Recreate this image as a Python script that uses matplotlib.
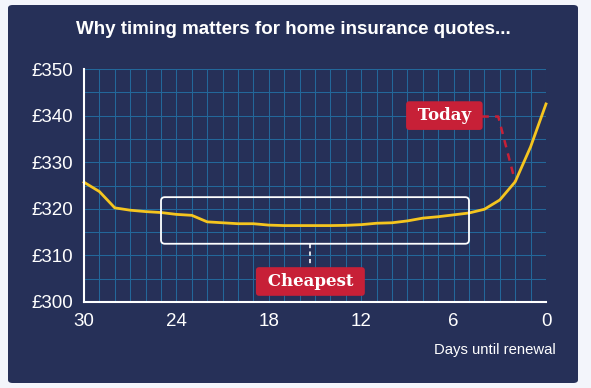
import matplotlib.pyplot as plt
from matplotlib.patches import FancyBboxPatch
from matplotlib.ticker import MultipleLocator, FuncFormatter

# days until renewal and the average quote on that day
DAYS = list(range(30, -1, -1))
QUOTES = [325.7, 323.7, 320.2, 319.7, 319.4, 319.2, 318.8, 318.6, 317.2, 317.0,
          316.8, 316.8, 316.5, 316.4, 316.4, 316.4, 316.4, 316.45, 316.6, 316.9,
          317.0, 317.4, 318.0, 318.3, 318.7, 319.1, 319.9, 321.9, 325.8, 333.3,
          342.5]

TITLE = "Why timing matters for home insurance quotes..."
XLABEL = "Days until renewal"
CHEAP_RANGE = (25, 5)          # days covered by the "cheapest" box
CHEAP_BAND = (312.5, 322.5)    # price band of the box
TODAY_DAY = 2

NAVY = "#263058"
PAGE = "#f3f5fb"
GRID = "#23679a"
YELLOW = "#f5c51f"
RED = "#c72037"

plt.rcParams['font.family'] = ['Liberation Sans', 'DejaVu Sans']

fig = plt.figure(figsize=(5.91, 3.88), dpi=100)
fig.patch.set_facecolor(PAGE)

# dark rounded panel behind everything
panel = FancyBboxPatch((8 / 591, 5 / 388), 570 / 591, 378 / 388,
                       boxstyle="round,pad=0,rounding_size=0.008",
                       transform=fig.transFigure, facecolor=NAVY,
                       edgecolor="none", zorder=-10)
fig.patches.append(panel)

ax = fig.add_axes([84 / 591, 1 - 302 / 388, 462 / 591, 233 / 388])
ax.set_facecolor("none")
ax.set_zorder(2)

ax.set_xlim(30, 0)
ax.set_ylim(300, 350)

ax.xaxis.set_major_locator(MultipleLocator(6))
ax.xaxis.set_minor_locator(MultipleLocator(1))
ax.yaxis.set_major_locator(MultipleLocator(10))
ax.yaxis.set_minor_locator(MultipleLocator(5))
ax.yaxis.set_major_formatter(FuncFormatter(lambda v, p: f"£{v:.0f}"))

ax.grid(True, which="both", color=GRID, linewidth=0.75, zorder=1)
ax.set_axisbelow(True)
ax.tick_params(which="both", length=0, colors="white", labelsize=13.5)
ax.tick_params(axis="y", pad=8)
ax.tick_params(axis="x", pad=8)

for side in ["top", "right"]:
    ax.spines[side].set_visible(False)
for side in ["left", "bottom"]:
    ax.spines[side].set_color("white")
    ax.spines[side].set_linewidth(1.5)
    ax.spines[side].set_zorder(4)

ax.plot(DAYS, QUOTES, color=YELLOW, linewidth=2, zorder=3, clip_on=False)

# white box round the cheapest stretch
box = FancyBboxPatch((CHEAP_RANGE[1], CHEAP_BAND[0]),
                     CHEAP_RANGE[0] - CHEAP_RANGE[1], CHEAP_BAND[1] - CHEAP_BAND[0],
                     boxstyle="round,pad=0,rounding_size=0.25", mutation_aspect=3.3,
                     facecolor="none", edgecolor="white", linewidth=1.3, zorder=4)
ax.add_patch(box)

label_box = dict(boxstyle="round,pad=0.35,rounding_size=0.2", facecolor=RED,
                 edgecolor="none")

cheap_x = 15.3
ax.plot([cheap_x, cheap_x], [CHEAP_BAND[0], 307.8], color="white",
        linewidth=1.2, linestyle=(0, (2.5, 2)), zorder=4)
ax.text(cheap_x, 304.4, " Cheapest ", family=["DejaVu Serif"], fontweight="bold",
        fontsize=12, color="white", ha="center", va="center", zorder=6,
        bbox=label_box)

# "Today" callout, dashed connector to the day-2 point
today_val = QUOTES[DAYS.index(TODAY_DAY)]
ax.plot([4.2, 3.1, TODAY_DAY], [339.8, 339.8, today_val], color=RED,
        linewidth=1.8, linestyle=(0, (3, 2.5)), zorder=2)
ax.text(6.6, 340.0, " Today ", family=["DejaVu Serif"], fontweight="bold",
        fontsize=12, color="white", ha="center", va="center", zorder=6,
        bbox=label_box)

fig.text(293 / 591, 1 - 30 / 388, TITLE, color="white", fontsize=13.5,
         fontweight="bold", ha="center", va="center")
fig.text(556 / 591, 1 - 350 / 388, XLABEL, color="white", fontsize=10.7,
         ha="right", va="center")

fig.savefig("out.png", dpi=100, facecolor=fig.get_facecolor())
